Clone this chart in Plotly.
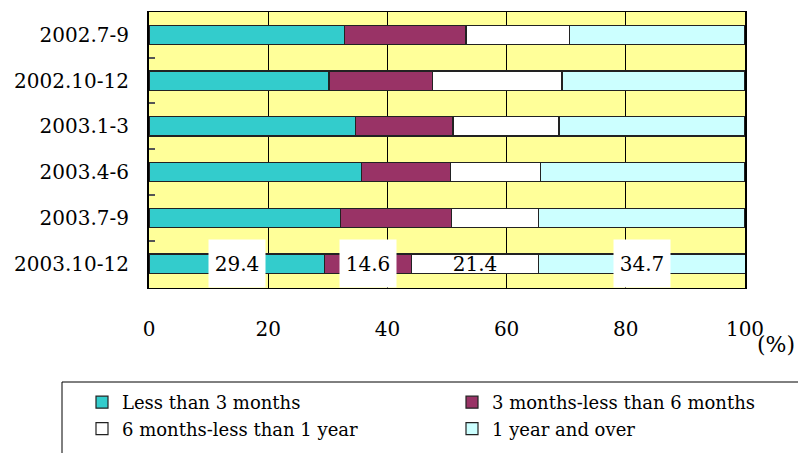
import plotly.graph_objects as go

# Quarterly breakdown of duration (%), one stacked bar per quarter
quarters = ["2002.7-9", "2002.10-12", "2003.1-3", "2003.4-6", "2003.7-9", "2003.10-12"]
less_3m = [32.8, 30.2, 34.7, 35.7, 32.1, 29.4]
m3_to_6m = [20.4, 17.3, 16.3, 14.9, 18.7, 14.6]
m6_to_1y = [17.3, 21.8, 17.8, 15.1, 14.6, 21.4]
over_1y = [29.5, 30.7, 31.2, 34.3, 34.6, 34.7]

series_names = ["Less than 3 months", "3 months-less than 6 months",
                "6 months-less than 1 year", "1 year and over"]
series_values = [less_3m, m3_to_6m, m6_to_1y, over_1y]
series_colors = ["#33CCCC", "#993366", "#FFFFFF", "#CCFFFF"]
series_legend = ["legend", "legend2", "legend", "legend2"]
x_ticks = [0, 20, 40, 60, 80, 100]

FONT = "DejaVu Serif"
W, H = 798, 453
L, R, T, B = 149, 53, 12, 165
pw, ph = W - L - R, H - T - B


def px_x(p):
    return (p - L) / pw


def px_y(p):
    return (H - B - p) / ph


fig = go.Figure()
for name, vals, col, lg in zip(series_names, series_values, series_colors, series_legend):
    fig.add_trace(go.Bar(
        y=quarters, x=vals, name=name, orientation="h",
        marker=dict(color=col, line=dict(color="#222222", width=1.2)),
        legend=lg, legendgroup=name, hoverinfo="skip",
    ))

# value labels on the latest quarter, centred in each segment;
# a white plate behind the number except on the white segment
last = quarters[-1]
start = 0.0
for vals, col in zip(series_values, series_colors):
    v = vals[-1]
    fig.add_annotation(
        x=start + v / 2, y=last, xref="x", yref="y",
        text=f"{v:.1f}", showarrow=False,
        font=dict(family=FONT, size=20, color="#000000"),
        bgcolor="rgba(0,0,0,0)" if col == "#FFFFFF" else "#FFFFFF",
        width=54, height=45,
    )
    start += v

# unit label
fig.add_annotation(
    x=px_x(776), y=px_y(344), xref="paper", yref="paper",
    xanchor="center", yanchor="middle",
    text="(%)", showarrow=False,
    font=dict(family=FONT, size=22, color="#000000"),
)

# legend frame
fig.add_shape(
    type="rect", xref="paper", yref="paper",
    x0=px_x(62), x1=px_x(820), y0=px_y(382), y1=px_y(470),
    line=dict(color="#000000", width=1), fillcolor="rgba(0,0,0,0)",
)

legend_common = dict(
    orientation="v", yanchor="top", xanchor="left",
    font=dict(family=FONT, size=18, color="#000000"),
    bgcolor="rgba(0,0,0,0)", borderwidth=0, traceorder="normal",
    tracegroupgap=9, itemwidth=30,
)

fig.update_layout(
    width=W, height=H,
    margin=dict(l=L, r=R, t=T, b=B, pad=0, autoexpand=False),
    paper_bgcolor="#FFFFFF",
    plot_bgcolor="#FFFF99",
    barmode="stack",
    bargap=0.58,
    font=dict(family=FONT, size=20, color="#000000"),
    showlegend=True,
    legend=dict(x=px_x(82), y=px_y(384), **legend_common),
    legend2=dict(x=px_x(452), y=px_y(384), **legend_common),
    xaxis=dict(
        range=[0, 100], tickvals=x_ticks, ticktext=[str(t) for t in x_ticks],
        showgrid=True, gridcolor="#000000", gridwidth=1,
        showline=True, linecolor="#000000", linewidth=1, mirror=True,
        ticks="", ticklabelstandoff=23, zeroline=False,
        tickfont=dict(family=FONT, size=20),
    ),
    yaxis=dict(
        autorange="reversed", showgrid=False,
        showline=True, linecolor="#000000", linewidth=2, mirror=True,
        ticks="inside", tickson="boundaries", ticklen=6, tickcolor="#555555",
        tickwidth=1.5, ticklabelstandoff=14,
        tickfont=dict(family=FONT, size=20),
    ),
)

fig.write_html("out.html")
